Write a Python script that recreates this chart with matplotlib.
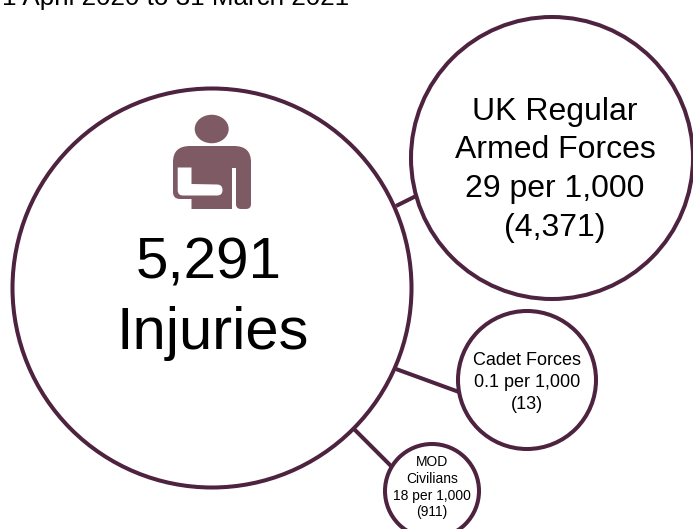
import matplotlib
matplotlib.use("Agg")
from matplotlib import pyplot as plt
from matplotlib.patches import Circle, Ellipse, PathPatch
from matplotlib.path import Path

plt.rcParams["font.family"] = ["Liberation Sans", "DejaVu Sans"]

period = "1 April 2020 to 31 March 2021"
total_count = "5,291"
total_label = "Injuries"
uk_lines = ["UK Regular", "Armed Forces", "29 per 1,000", "(4,371)"]
cadet_lines = ["Cadet Forces", "0.1 per 1,000", "(13)"]
mod_lines = ["MOD", "Civilians", "18 per 1,000", "(911)"]

LINE = "#4e2340"
ICON = "#7e5a65"
TEXT = "#000000"

fig = plt.figure(figsize=(6.93, 5.29), dpi=100)
ax = fig.add_axes([0, 0, 1, 1])
ax.set_xlim(0, 693)
ax.set_ylim(529, 0)
ax.axis("off")

# connectors go under the circles
links = [((396, 206), (416, 196)), ((396, 369), (459, 392)), ((354, 429), (391, 466))]
for a, b in links:
    ax.plot([a[0], b[0]], [a[1], b[1]], color=LINE, lw=2.9, solid_capstyle="butt", zorder=1)

bubbles = [(212, 288, 199.5), (552, 158, 141), (527, 380, 69), (432, 491, 47)]
for x, y, r in bubbles:
    ax.add_patch(Circle((x, y), r, fc="white", ec=LINE, lw=2.9, zorder=2))


def stack(lines, x, baselines, size):
    for s, y in zip(lines, baselines):
        ax.text(x, y, s, ha="center", va="baseline", fontsize=size, color=TEXT, zorder=4)


ax.text(2, 5, period, ha="left", va="baseline", fontsize=18.7, color=TEXT, zorder=4)
stack([total_count], 208.5, [278], 42)
stack([total_label], 212.5, [349], 43)
stack(uk_lines, 555, [120, 158, 197, 236], 23)
stack(cadet_lines, 527, [365, 387, 409], 13)
stack(mod_lines, 432, [466, 483, 500, 516], 10)

# person with an arm in a sling
ax.add_patch(Ellipse((211.7, 129), 34, 28.5, fc=ICON, ec="none", zorder=3))
M, L, C, Z = Path.MOVETO, Path.LINETO, Path.CURVE3, Path.CLOSEPOLY
body = [
    (M, (173, 162)), (C, (173, 146)), (L, (190, 146)), (L, (234, 146)), (C, (251, 146)), (L, (251, 162)),
    (L, (251, 204)), (C, (251, 209)), (L, (246, 209)), (L, (241, 209)), (C, (236, 209)), (L, (236, 204)),
    (L, (236, 168)), (L, (232, 168)), (L, (232, 209)), (L, (191.5, 209)), (L, (191.5, 199)), (L, (180, 199)),
    (C, (173, 199)), (L, (173, 192)), (Z, (173, 162)),
]
# hole for the forearm, wound the other way
sling = [
    (M, (177.7, 167.5)), (L, (177.7, 190)), (C, (177.7, 195.5)), (L, (183, 195.5)), (L, (217, 195.5)),
    (C, (222.5, 195.5)), (L, (222.5, 190)), (C, (222.5, 184.5)), (L, (217, 184.5)), (L, (191.5, 184)),
    (L, (191.5, 167.5)), (Z, (177.7, 167.5)),
]
codes = [c for c, _ in body + sling]
verts = [v for _, v in body + sling]
ax.add_patch(PathPatch(Path(verts, codes), fc=ICON, ec="none", zorder=3))

fig.savefig("out.png", dpi=100)
